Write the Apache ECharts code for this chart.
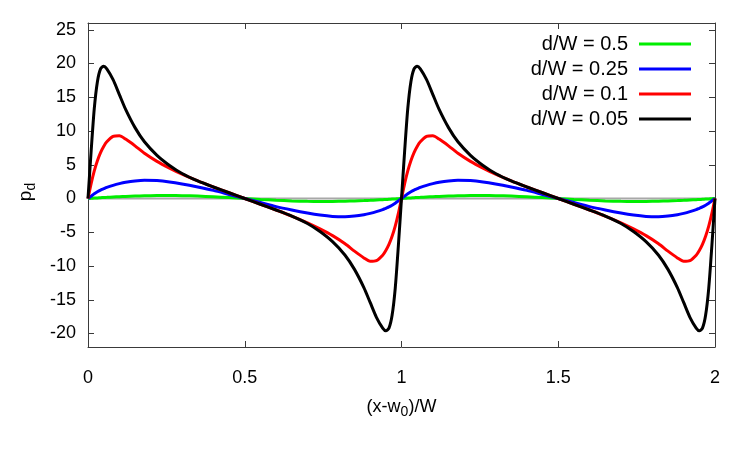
<!DOCTYPE html>
<html>
<head>
<meta charset="utf-8">
<script src="https://cdn.jsdelivr.net/npm/echarts@6/dist/echarts.min.js"></script>
<style>
  html, body { margin: 0; padding: 0; background: #fff; }
  #chart { width: 750px; height: 450px; }
</style>
</head>
<body>
<div id="chart"></div>
<script>
// x positions, (x-w0)/W
const xs = [
  0, 0.01, 0.02, 0.03, 0.04, 0.05, 0.06, 0.08, 0.10, 0.12, 0.15, 0.18, 0.22, 0.26, 0.30, 0.35, 0.40, 0.45,
  0.50, 0.55, 0.60, 0.65, 0.70, 0.74, 0.78, 0.82, 0.85, 0.88, 0.90, 0.92, 0.94, 0.95, 0.96, 0.97, 0.98, 0.99,
  1.00, 1.01, 1.02, 1.03, 1.04, 1.05, 1.06, 1.08, 1.10, 1.12, 1.15, 1.18, 1.22, 1.26, 1.30, 1.35, 1.40, 1.45,
  1.50, 1.55, 1.60, 1.65, 1.70, 1.74, 1.78, 1.82, 1.85, 1.88, 1.90, 1.92, 1.94, 1.95, 1.96, 1.97, 1.98, 1.99,
  2.00
];

const pd050 = [
  0, 0.03, 0.06, 0.09, 0.12, 0.15, 0.17, 0.22, 0.27, 0.31, 0.36, 0.40, 0.43, 0.44, 0.42, 0.36, 0.26, 0.14,
  0, -0.14, -0.26, -0.36, -0.42, -0.44, -0.43, -0.40, -0.36, -0.31, -0.27, -0.22, -0.17, -0.15, -0.12, -0.09, -0.06, -0.03,
  0, 0.03, 0.06, 0.09, 0.12, 0.15, 0.17, 0.22, 0.27, 0.31, 0.36, 0.40, 0.43, 0.44, 0.42, 0.36, 0.26, 0.14,
  0, -0.14, -0.26, -0.36, -0.42, -0.44, -0.43, -0.40, -0.36, -0.31, -0.27, -0.22, -0.17, -0.15, -0.12, -0.09, -0.06, -0.03,
  0
];

const pd025 = [
  0, 0.35, 0.7, 1.0, 1.25, 1.45, 1.65, 1.95, 2.2, 2.4, 2.6, 2.7, 2.65, 2.45, 2.15, 1.7, 1.2, 0.6,
  0, -0.6, -1.2, -1.7, -2.15, -2.45, -2.65, -2.7, -2.6, -2.4, -2.2, -1.95, -1.65, -1.45, -1.25, -1.0, -0.7, -0.35,
  0, 0.35, 0.7, 1.0, 1.25, 1.45, 1.65, 1.95, 2.2, 2.4, 2.6, 2.7, 2.65, 2.45, 2.15, 1.7, 1.2, 0.6,
  0, -0.6, -1.2, -1.7, -2.15, -2.45, -2.65, -2.7, -2.6, -2.4, -2.2, -1.95, -1.65, -1.45, -1.25, -1.0, -0.7, -0.35,
  0
];

const pd010 = [
  0, 2.2, 4.1, 5.6, 6.8, 7.7, 8.4, 9.2, 9.3, 8.8, 7.8, 6.7, 5.5, 4.5, 3.6, 2.6, 1.7, 0.85,
  0, -0.85, -1.7, -2.6, -3.6, -4.5, -5.5, -6.7, -7.8, -8.8, -9.3, -9.2, -8.4, -7.7, -6.8, -5.6, -4.1, -2.2,
  0, 2.2, 4.1, 5.6, 6.8, 7.7, 8.4, 9.2, 9.3, 8.8, 7.8, 6.7, 5.5, 4.5, 3.6, 2.6, 1.7, 0.85,
  0, -0.85, -1.7, -2.6, -3.6, -4.5, -5.5, -6.7, -7.8, -8.8, -9.3, -9.2, -8.4, -7.7, -6.8, -5.6, -4.1, -2.2,
  0
];

const pd005 = [
  0, 7.0, 13.3, 17.3, 19.2, 19.6, 19.2, 17.6, 15.4, 13.2, 10.5, 8.4, 6.4, 4.9, 3.7, 2.6, 1.7, 0.85,
  0, -0.85, -1.7, -2.6, -3.7, -4.9, -6.4, -8.4, -10.5, -13.2, -15.4, -17.6, -19.2, -19.6, -19.2, -17.3, -13.3, -7.0,
  0, 7.0, 13.3, 17.3, 19.2, 19.6, 19.2, 17.6, 15.4, 13.2, 10.5, 8.4, 6.4, 4.9, 3.7, 2.6, 1.7, 0.85,
  0, -0.85, -1.7, -2.6, -3.7, -4.9, -6.4, -8.4, -10.5, -13.2, -15.4, -17.6, -19.2, -19.6, -19.2, -17.3, -13.3, -7.0,
  0
];

const zeroX = [0, 2];
const zeroY = [0, 0];

const xTicks = [0, 0.5, 1, 1.5, 2];
const yTicks = [-20, -15, -10, -5, 0, 5, 10, 15, 20, 25];

const FONT = 'Liberation Sans';
const AXIS_COLOR = '#3a3a3a';

function pairs(x, y) {
  return x.map((v, i) => [v, y[i]]);
}

function curve(name, color, values) {
  return {
    name,
    type: 'line',
    data: pairs(xs, values),
    showSymbol: false,
    smooth: 0.25,
    lineStyle: { color, width: 3 },
    itemStyle: { color },
    animation: false,
  };
}

const chart = echarts.init(document.getElementById('chart'), null, { renderer: 'canvas' });

const edgeTick = { show: true, inside: true, length: 6, lineStyle: { color: AXIS_COLOR } };
const subRich = { sub: { fontFamily: FONT, fontSize: 14, padding: [10, 0, 0, 0], verticalAlign: 'bottom' } };

chart.setOption({
  backgroundColor: '#ffffff',
  animation: false,
  textStyle: { fontFamily: FONT },
  grid: { left: 88, right: 35, top: 23, bottom: 103 },
  legend: {
    orient: 'vertical',
    right: 54,
    top: 29,
    align: 'right',
    itemWidth: 52,
    itemHeight: 3,
    itemGap: 5,
    icon: 'rect',
    data: ['d/W = 0.5', 'd/W = 0.25', 'd/W = 0.1', 'd/W = 0.05'],
    textStyle: { fontFamily: FONT, fontSize: 20, color: '#000', padding: [0, 6, 0, 0] },
  },
  xAxis: [
    {
      type: 'value',
      min: 0,
      max: 2,
      interval: 0.5,
      name: '(x-w{sub|0})/W',
      nameLocation: 'middle',
      nameGap: 48,
      nameTextStyle: { fontFamily: FONT, fontSize: 18, color: '#000', rich: subRich },
      axisLine: { show: true, onZero: false, lineStyle: { color: AXIS_COLOR } },
      axisTick: { ...edgeTick, customValues: xTicks },
      axisLabel: { customValues: xTicks, fontFamily: FONT, fontSize: 18, color: '#000', margin: 22 },
      splitLine: { show: false },
    },
    {
      type: 'value',
      position: 'top',
      min: 0,
      max: 2,
      interval: 0.5,
      axisLine: { show: true, onZero: false, lineStyle: { color: AXIS_COLOR } },
      axisTick: { ...edgeTick, customValues: xTicks },
      axisLabel: { show: false },
      splitLine: { show: false },
    },
  ],
  yAxis: [
    {
      type: 'value',
      min: -22,
      max: 26,
      name: 'p{sub|d}',
      nameLocation: 'middle',
      nameRotate: 90,
      nameGap: 50,
      nameTextStyle: { fontFamily: FONT, fontSize: 19, color: '#000', rich: subRich, padding: [0, 14, 0, 0] },
      axisLine: { show: true, onZero: false, lineStyle: { color: AXIS_COLOR } },
      axisTick: { ...edgeTick, customValues: yTicks },
      axisLabel: { customValues: yTicks, fontFamily: FONT, fontSize: 18, color: '#000', margin: 12 },
      splitLine: { show: false },
    },
    {
      type: 'value',
      position: 'right',
      min: -22,
      max: 26,
      axisLine: { show: true, onZero: false, lineStyle: { color: AXIS_COLOR } },
      axisTick: { ...edgeTick, customValues: yTicks },
      axisLabel: { show: false },
      splitLine: { show: false },
    },
  ],
  series: [
    {
      name: 'zero',
      type: 'line',
      data: pairs(zeroX, zeroY),
      showSymbol: false,
      lineStyle: { color: '#a8a8a8', width: 2 },
      silent: true,
      z: 1,
    },
    curve('d/W = 0.5', '#00ee00', pd050),
    curve('d/W = 0.25', '#0000ff', pd025),
    curve('d/W = 0.1', '#ff0000', pd010),
    curve('d/W = 0.05', '#000000', pd005),
  ],
});
</script>
</body>
</html>
